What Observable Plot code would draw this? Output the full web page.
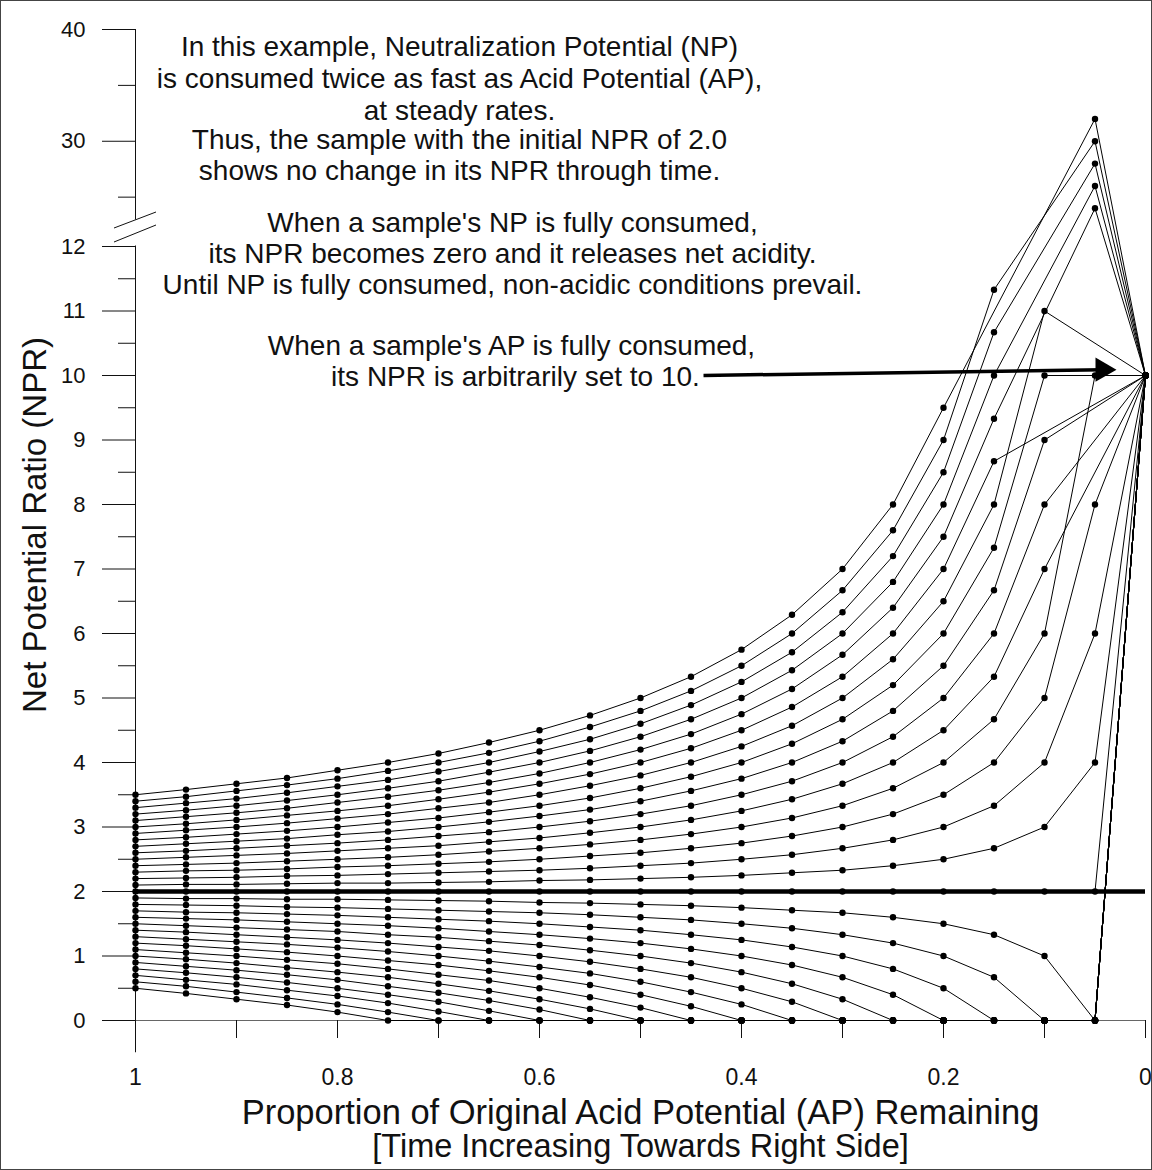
<!DOCTYPE html>
<html><head><meta charset="utf-8">
<script src="https://cdn.jsdelivr.net/npm/d3@7"></script>
<script src="https://cdn.jsdelivr.net/npm/@observablehq/plot@0.6"></script>
<style>
html,body{margin:0;padding:0;background:#fff;}
#chart svg{display:block;}
</style>
</head><body><div id="chart"></div>
<script>
// Proportion of original AP remaining (x positions of every curve's points)
const apRemaining = [1, 0.95, 0.9, 0.85, 0.8, 0.75, 0.7, 0.65, 0.6, 0.55, 0.5, 0.45, 0.4, 0.35, 0.3, 0.25, 0.2, 0.15, 0.1, 0.05, 0];

// Initial NPR of each sample (one curve each)
const initialNPR = [0.5, 0.6, 0.7, 0.8, 0.9, 1.0, 1.1, 1.2, 1.3, 1.4, 1.5, 1.6, 1.7, 1.8, 1.9,
                    2.0, 2.1, 2.2, 2.3, 2.4, 2.5, 2.6, 2.7, 2.8, 2.9, 3.0, 3.1, 3.2, 3.3, 3.4, 3.5];

// NPR (null = hidden in the axis break)
const nprLower = [
  [0.5, 0.42, 0.33, 0.24, 0.13, 0, 0, 0, 0, 0, 0, 0, 0, 0, 0, 0, 0, 0, 0, 0, 10],
  [0.6, 0.53, 0.44, 0.35, 0.25, 0.13, 0, 0, 0, 0, 0, 0, 0, 0, 0, 0, 0, 0, 0, 0, 10],
  [0.7, 0.63, 0.56, 0.47, 0.38, 0.27, 0.14, 0, 0, 0, 0, 0, 0, 0, 0, 0, 0, 0, 0, 0, 10],
  [0.8, 0.74, 0.67, 0.59, 0.5, 0.4, 0.29, 0.15, 0, 0, 0, 0, 0, 0, 0, 0, 0, 0, 0, 0, 10],
  [0.9, 0.84, 0.78, 0.71, 0.63, 0.53, 0.43, 0.31, 0.17, 0, 0, 0, 0, 0, 0, 0, 0, 0, 0, 0, 10],
  [1.0, 0.95, 0.89, 0.82, 0.75, 0.67, 0.57, 0.46, 0.33, 0.18, 0, 0, 0, 0, 0, 0, 0, 0, 0, 0, 10],
  [1.1, 1.05, 1.0, 0.94, 0.88, 0.8, 0.71, 0.62, 0.5, 0.36, 0.2, 0, 0, 0, 0, 0, 0, 0, 0, 0, 10],
  [1.2, 1.16, 1.11, 1.06, 1.0, 0.93, 0.86, 0.77, 0.67, 0.55, 0.4, 0.22, 0, 0, 0, 0, 0, 0, 0, 0, 10],
  [1.3, 1.26, 1.22, 1.18, 1.13, 1.07, 1.0, 0.92, 0.83, 0.73, 0.6, 0.44, 0.25, 0, 0, 0, 0, 0, 0, 0, 10],
  [1.4, 1.37, 1.33, 1.29, 1.25, 1.2, 1.14, 1.08, 1.0, 0.91, 0.8, 0.67, 0.5, 0.29, 0, 0, 0, 0, 0, 0, 10],
  [1.5, 1.47, 1.44, 1.41, 1.38, 1.33, 1.29, 1.23, 1.17, 1.09, 1.0, 0.89, 0.75, 0.57, 0.33, 0, 0, 0, 0, 0, 10],
  [1.6, 1.58, 1.56, 1.53, 1.5, 1.47, 1.43, 1.38, 1.33, 1.27, 1.2, 1.11, 1.0, 0.86, 0.67, 0.4, 0, 0, 0, 0, 10],
  [1.7, 1.68, 1.67, 1.65, 1.63, 1.6, 1.57, 1.54, 1.5, 1.45, 1.4, 1.33, 1.25, 1.14, 1.0, 0.8, 0.5, 0, 0, 0, 10],
  [1.8, 1.79, 1.78, 1.76, 1.75, 1.73, 1.71, 1.69, 1.67, 1.64, 1.6, 1.56, 1.5, 1.43, 1.33, 1.2, 1.0, 0.67, 0, 0, 10],
  [1.9, 1.89, 1.89, 1.88, 1.88, 1.87, 1.86, 1.85, 1.83, 1.82, 1.8, 1.78, 1.75, 1.71, 1.67, 1.6, 1.5, 1.33, 1.0, 0, 10]
];
const nprNeutral = [2, 2, 2, 2, 2, 2, 2, 2, 2, 2, 2, 2, 2, 2, 2, 2, 2, 2, 2, 2, 10];
const nprUpper = [
  [2.1, 2.11, 2.11, 2.12, 2.13, 2.13, 2.14, 2.15, 2.17, 2.18, 2.2, 2.22, 2.25, 2.29, 2.33, 2.4, 2.5, 2.67, 3, 4, 10],
  [2.2, 2.21, 2.22, 2.24, 2.25, 2.27, 2.29, 2.31, 2.33, 2.36, 2.4, 2.44, 2.5, 2.57, 2.67, 2.8, 3, 3.33, 4, 6, 10],
  [2.3, 2.32, 2.33, 2.35, 2.38, 2.4, 2.43, 2.46, 2.5, 2.55, 2.6, 2.67, 2.75, 2.86, 3, 3.2, 3.5, 4, 5, 8, 10],
  [2.4, 2.42, 2.44, 2.47, 2.5, 2.53, 2.57, 2.62, 2.67, 2.73, 2.8, 2.89, 3, 3.14, 3.33, 3.6, 4, 4.67, 6, 10, 10],
  [2.5, 2.53, 2.56, 2.59, 2.63, 2.67, 2.71, 2.77, 2.83, 2.91, 3, 3.11, 3.25, 3.43, 3.67, 4, 4.5, 5.33, 7, null, 10],
  [2.6, 2.63, 2.67, 2.71, 2.75, 2.8, 2.86, 2.92, 3, 3.09, 3.2, 3.33, 3.5, 3.71, 4, 4.4, 5, 6, 8, null, 10],
  [2.7, 2.74, 2.78, 2.82, 2.88, 2.93, 3, 3.08, 3.17, 3.27, 3.4, 3.56, 3.75, 4, 4.33, 4.8, 5.5, 6.67, 9, null, 10],
  [2.8, 2.84, 2.89, 2.94, 3, 3.07, 3.14, 3.23, 3.33, 3.45, 3.6, 3.78, 4, 4.29, 4.67, 5.2, 6, 7.33, 10, null, 10],
  [2.9, 2.95, 3, 3.06, 3.13, 3.2, 3.29, 3.38, 3.5, 3.64, 3.8, 4, 4.25, 4.57, 5, 5.6, 6.5, 8, 11, null, 10],
  [3.0, 3.05, 3.11, 3.18, 3.25, 3.33, 3.43, 3.54, 3.67, 3.82, 4, 4.22, 4.5, 4.86, 5.33, 6, 7, 8.67, null, null, 10],
  [3.1, 3.16, 3.22, 3.29, 3.38, 3.47, 3.57, 3.69, 3.83, 4, 4.2, 4.44, 4.75, 5.14, 5.67, 6.4, 7.5, 9.33, null, 24, 10],
  [3.2, 3.26, 3.33, 3.41, 3.5, 3.6, 3.71, 3.85, 4, 4.18, 4.4, 4.67, 5, 5.43, 6, 6.8, 8, 10, null, 26, 10],
  [3.3, 3.37, 3.44, 3.53, 3.63, 3.73, 3.86, 4, 4.17, 4.36, 4.6, 4.89, 5.25, 5.71, 6.33, 7.2, 8.5, 10.67, null, 28, 10],
  [3.4, 3.47, 3.56, 3.65, 3.75, 3.87, 4, 4.15, 4.33, 4.55, 4.8, 5.11, 5.5, 6, 6.67, 7.6, 9, 11.33, null, 30, 10],
  [3.5, 3.58, 3.67, 3.76, 3.88, 4, 4.14, 4.31, 4.5, 4.73, 5, 5.33, 5.75, 6.29, 7, 8, 9.5, null, null, 32, 10]
];

const neutralNPR = 2;                   // thick reference line
const yMajorTicks = [0, 1, 2, 3, 4, 5, 6, 7, 8, 9, 10, 11, 12, 30, 40];
const yMinorTicks = [0.5, 1.5, 2.5, 3.5, 4.5, 5.5, 6.5, 7.5, 8.5, 9.5, 10.5, 11.5, 25, 35];
const xLabelTicks = [1, 0.8, 0.6, 0.4, 0.2, 0];
const xAllTicks = [1, 0.9, 0.8, 0.7, 0.6, 0.5, 0.4, 0.3, 0.2, 0.1, 0];
const yBreak = [12, 23];                // NPR values hidden by the axis break

const annotations = [
  {text: "In this example, Neutralization Potential (NP)", x: 459, y: 47},
  {text: "is consumed twice as fast as Acid Potential (AP),", x: 459, y: 79},
  {text: "at steady rates.", x: 459, y: 111},
  {text: "Thus, the sample with the initial NPR of 2.0", x: 459, y: 140},
  {text: "shows no change in its NPR through time.", x: 459, y: 171},
  {text: "When a sample's NP is fully consumed,", x: 512, y: 223},
  {text: "its NPR becomes zero and it releases net acidity.", x: 512, y: 254},
  {text: "Until NP is fully consumed, non-acidic conditions prevail.", x: 512, y: 285},
  {text: "When a sample's AP is fully consumed,", x: 511, y: 346},
  {text: "its NPR is arbitrarily set to 10.", x: 515, y: 377}
];
const arrowFrom = {ap: 0.4376, npr: 10.0};
const arrowTo = {ap: 0.0426, npr: 10.09};

const allCurves = [...nprLower, nprNeutral, ...nprUpper];
const points = [];
initialNPR.forEach((r0, i) => {
  allCurves[i].forEach((v, j) => {
    if (v != null) points.push({curve: r0, ap: apRemaining[j], npr: v});
  });
});

const W = 1152, H = 1170;
const mL = 135, mR = 7, mT = 29, mB = 150;
const font = "'Liberation Sans', Arial, sans-serif";
const ink = "#111";

const annotationMarks = annotations.map(a => Plot.text([a.text], {
  frameAnchor: "top-left", dx: a.x - mL, dy: a.y - mT,
  text: d => d, textAnchor: "middle", lineAnchor: "middle",
  fontSize: 28, fill: ink
}));

const chart = Plot.plot({
  width: W, height: H,
  marginLeft: mL, marginRight: mR, marginTop: mT, marginBottom: mB,
  style: {fontFamily: font, background: "#fff", color: ink},
  x: {domain: [1, 0], range: [mL, W - mR]},
  y: {type: "linear", domain: [0, yBreak[0], yBreak[1], 40], range: [H - mB, 246, 219, mT]},
  marks: [
    // axes
    Plot.ruleY([0], {x1: 1, x2: 0, stroke: "#666", strokeWidth: 1}),
    Plot.axisX({ticks: xAllTicks, tickSize: 18, tickFormat: () => "", stroke: ink}),
    Plot.axisX({ticks: xLabelTicks, tickSize: 18, tickPadding: 30, fontSize: 23,
                tickFormat: d => String(d), stroke: ink, label: null}),
    Plot.axisY({ticks: yMinorTicks, tickSize: 17, tickFormat: () => "", stroke: ink, label: null}),
    Plot.axisY({ticks: yMajorTicks, tickSize: 33, tickPadding: 17, fontSize: 22,
                tickFormat: d => String(d), stroke: ink, label: null}),
    Plot.ruleX([{x: 1, y1: -0.5, y2: 12.2}, {x: 1, y1: 22.8, y2: 40}],
               {x: "x", y1: "y1", y2: "y2", stroke: ink}),
    // reference line
    Plot.ruleY([neutralNPR], {x1: 1, x2: 0, stroke: "#000", strokeWidth: 4.5}),
    // curves
    Plot.line(points, {x: "ap", y: "npr", z: "curve", stroke: "#000", strokeWidth: 1}),
    Plot.dot(points, {x: "ap", y: "npr", r: 3.2, fill: "#000", stroke: null}),
    // arrow
    Plot.link([{...arrowFrom, ap2: arrowTo.ap, npr2: arrowTo.npr}],
              {x1: "ap", y1: "npr", x2: "ap2", y2: "npr2", stroke: "#000", strokeWidth: 3.5}),
    Plot.dot([arrowTo], {x: "ap", y: "npr", symbol: "triangle", r: 9, rotate: 90, fill: "#000", stroke: null}),
    // axis titles
    Plot.text(["Net Potential Ratio (NPR)"], {frameAnchor: "left", dx: -100, rotate: -90,
              textAnchor: "middle", lineAnchor: "middle", text: d => d, fontSize: 33, fill: ink}),
    Plot.text(["Proportion of Original Acid Potential (AP) Remaining"], {frameAnchor: "bottom", dy: 92,
              textAnchor: "middle", lineAnchor: "middle", text: d => d, fontSize: 34.5, fill: ink}),
    Plot.text(["[Time Increasing Towards Right Side]"], {frameAnchor: "bottom", dy: 126,
              textAnchor: "middle", lineAnchor: "middle", text: d => d, fontSize: 32.5, fill: ink}),
    ...annotationMarks
  ]
});

// axis break symbol
const sy = chart.scale("y"), sx = chart.scale("x");
const y12 = sy.apply(yBreak[0]), x0 = sx.apply(1);
const svg = d3.select(chart);
[[-4, -21], [-18, -34]].forEach(([a, b]) => {
  svg.append("line").attr("x1", x0 - 21).attr("y1", y12 + a).attr("x2", x0 + 21).attr("y2", y12 + b)
    .attr("stroke", ink).attr("stroke-width", 1);
});
svg.append("rect").attr("x", 0.5).attr("y", 0.5).attr("width", W - 1).attr("height", H - 1)
  .attr("fill", "none").attr("stroke", "#444");

document.getElementById("chart").appendChild(chart);
</script>
</body></html>
